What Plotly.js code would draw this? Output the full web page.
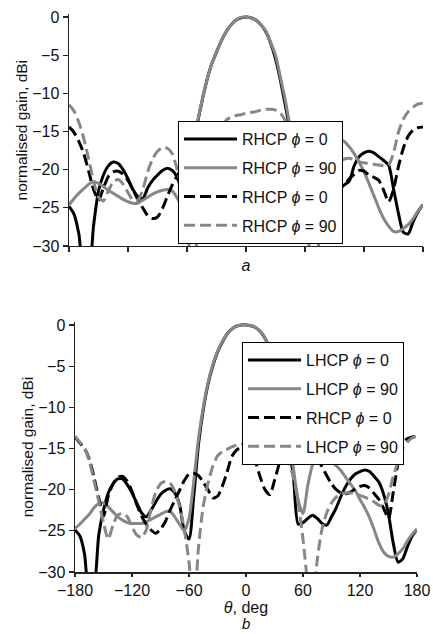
<!DOCTYPE html>
<html>
<head>
<meta charset="utf-8">
<script src="https://cdn.plot.ly/plotly-3.0.1.min.js"></script>
<style>html,body{margin:0;padding:0;background:#fff;}#chart{width:433px;height:634px;}</style>
</head>
<body>
<div id="chart"></div>
<script>
// theta grid, deg (step 5)
const theta = [];
for (let t = -180; t <= 180; t += 5) theta.push(t);

const xTicks = [-180, -120, -60, 0, 60, 120, 180];
const yTicks = [0, -5, -10, -15, -20, -25, -30];

// ---- panel a ----
const aNames = ['RHCP <i>ϕ</i> = 0', 'RHCP <i>ϕ</i> = 90', 'RHCP <i>ϕ</i> = 0', 'RHCP <i>ϕ</i> = 90'];
const aCoPhi0 = [-24.8,-25.8,-28.4,-33,-33,-27.3,-22.8,-20.7,-19.5,-19.0,-19.2,-20.0,-21.2,-22.6,-23.5,-23.8,-22.4,-21.4,-20.7,-20.1,-19.8,-20.1,-21.0,-23.0,-25.5,-20.5,-14.4,-11.2,-8.4,-6.2,-4.6,-3.1,-1.9,-1.0,-0.4,-0.1,0,-0.1,-0.4,-1.0,-1.9,-3.4,-5.5,-8.3,-11.6,-15.0,-18.5,-21.0,-22.5,-22.0,-21.5,-22.0,-23.0,-23.5,-23.0,-22.5,-22.0,-21.5,-19.5,-18.3,-17.8,-17.6,-17.8,-18.3,-18.8,-19.4,-22.5,-25.7,-28.2,-28.4,-26.8,-25.5,-24.6];
const aCoPhi90 = [-24.6,-23.8,-23.1,-22.5,-21.9,-21.6,-21.8,-22.2,-22.7,-23.1,-23.5,-23.9,-24.2,-24.4,-24.4,-24.0,-23.6,-23.2,-22.9,-22.7,-22.6,-22.8,-23.7,-24.8,-25.0,-19.5,-14.2,-11.1,-8.4,-6.2,-4.6,-3.1,-1.9,-1.0,-0.4,-0.05,0,-0.1,-0.4,-1.0,-1.8,-3.3,-5.0,-7.9,-10.9,-14.5,-17.5,-19.0,-19.5,-18.5,-17.5,-16.5,-16.0,-15.8,-15.8,-16.0,-16.3,-17.0,-17.9,-19.0,-20.3,-21.8,-23.4,-25.0,-26.4,-27.4,-28.1,-28.1,-27.7,-27.2,-26.4,-25.4,-24.6];
const aXPhi0 = [-14.4,-15.1,-16.3,-17.9,-20.2,-22.6,-24.0,-22.4,-20.9,-20.3,-20.2,-20.6,-21.4,-22.6,-23.9,-25.0,-26.0,-26.4,-26.2,-25.1,-23.5,-22.0,-20.8,-19.8,-19.2,-19.3,-20.0,-21.0,-22.0,-21.0,-19.0,-17.5,-16.5,-16.0,-15.8,-15.8,-16.0,-16.8,-18.0,-19.5,-20.5,-20.8,-19.5,-17.5,-16.5,-16.0,-16.3,-17.0,-18.0,-19.2,-20.3,-21.2,-21.7,-22.0,-22.2,-22.3,-22.0,-21.2,-20.6,-20.1,-20.2,-20.7,-21.0,-21.4,-22.7,-24.2,-22.6,-19.6,-17.2,-15.6,-14.8,-14.5,-14.4];
const aXPhi90 = [-11.5,-12.3,-13.8,-15.9,-18.6,-21.5,-23.6,-24.1,-22.8,-21.6,-21.3,-21.9,-23.0,-24.0,-24.0,-22.6,-20.3,-18.6,-17.6,-17.1,-17.2,-17.9,-20.0,-22.8,-26.5,-35,-29.5,-24.0,-20.5,-18.0,-16.3,-14.8,-13.5,-13.1,-12.9,-12.8,-12.6,-12.5,-12.4,-12.2,-12.1,-12.1,-12.2,-12.6,-13.6,-15.5,-18.0,-21.5,-25.5,-31,-35,-28,-24.0,-21.5,-20.0,-19.0,-18.6,-18.5,-18.7,-19.0,-19.1,-19.2,-19.3,-19.4,-19.5,-19.4,-17.8,-15.1,-13.4,-12.4,-11.8,-11.4,-11.3];

// ---- panel b ----
const bNames = ['LHCP <i>ϕ</i> = 0', 'LHCP <i>ϕ</i> = 90', 'RHCP <i>ϕ</i> = 0', 'LHCP <i>ϕ</i> = 90'];
const bCoPhi0 = [-24.9,-25.6,-27.8,-33,-32,-25.5,-22.5,-20.4,-19.3,-18.7,-18.7,-19.4,-20.4,-21.6,-22.8,-23.3,-22.5,-21.5,-20.6,-20.1,-19.9,-20.4,-21.8,-25.0,-26.0,-20.8,-14.5,-10.3,-7.2,-5.0,-3.3,-2.1,-1.1,-0.5,-0.15,0,0,-0.1,-0.3,-0.8,-1.6,-2.8,-4.5,-7.0,-10.5,-14.5,-18.5,-24.2,-24.0,-23.5,-23.1,-23.5,-24.1,-24.3,-23.3,-22.2,-20.8,-19.6,-18.7,-18.1,-17.8,-17.6,-17.8,-18.4,-19.1,-20.6,-23.0,-26.5,-28.8,-28.4,-26.9,-25.6,-24.8];
const bCoPhi90 = [-24.7,-24.2,-23.6,-23.0,-22.2,-21.7,-21.6,-22.1,-22.7,-23.3,-23.7,-24.0,-24.1,-24.1,-24.1,-23.9,-23.6,-23.3,-23.0,-22.7,-22.6,-23.3,-24.2,-25.0,-23.5,-19.0,-13.8,-10.0,-7.0,-4.8,-3.2,-2.0,-1.1,-0.5,-0.15,0,0,-0.1,-0.3,-0.8,-1.6,-2.8,-4.3,-6.6,-9.6,-13.5,-17.5,-21.3,-22.9,-19.5,-17.0,-16.0,-15.7,-16.1,-16.6,-17.1,-17.7,-18.5,-19.3,-20.1,-21.2,-22.2,-23.4,-24.9,-26.5,-27.6,-28.1,-28.2,-27.8,-27.2,-26.2,-25.4,-24.8];
const bXPhi0 = [-13.6,-14.3,-15.0,-16.3,-18.5,-21.0,-23.2,-20.8,-19.3,-18.5,-18.4,-19.0,-20.2,-21.8,-23.2,-24.2,-24.9,-25.3,-24.8,-23.9,-22.5,-21.3,-20.1,-18.9,-18.1,-18.0,-18.3,-19.1,-20.0,-21.0,-20.8,-19.6,-17.9,-16.0,-15.2,-14.8,-14.7,-15.0,-16.6,-18.5,-20.0,-20.6,-18.9,-16.8,-14.6,-13.5,-13.2,-13.3,-13.8,-14.6,-15.4,-16.3,-17.2,-18.3,-19.3,-20.0,-20.4,-20.5,-20.3,-19.9,-19.6,-19.5,-19.8,-20.5,-21.2,-22.3,-23.5,-20.3,-16.8,-14.3,-13.8,-13.6,-13.5];
const bXPhi90 = [-13.5,-14.2,-15.0,-16.5,-18.9,-21.4,-24.0,-26.0,-24.3,-23.1,-22.9,-23.3,-24.5,-25.5,-25.8,-24.9,-22.4,-20.3,-19.3,-19.0,-19.2,-20.2,-22.0,-24.8,-28.8,-35,-27.0,-22.0,-19.2,-17.2,-15.9,-15.4,-15.1,-14.8,-14.6,-14.5,-14.3,-14.2,-14.1,-14.1,-14.3,-14.6,-15.0,-15.5,-15.8,-16.8,-18.5,-21.6,-26.0,-31.5,-35,-28.5,-24.8,-22.8,-21.6,-20.9,-20.5,-20.4,-20.4,-20.5,-20.7,-20.9,-21.2,-21.5,-21.9,-21.9,-20.6,-18.4,-16.6,-15.0,-14.2,-13.7,-13.5];

const BLACK = '#000000', GREY = '#878787';
const styles = [
  {color: BLACK, dash: 'solid'},
  {color: GREY, dash: 'solid'},
  {color: BLACK, dash: '11px,5px'},
  {color: GREY, dash: '11px,5px'}
];

function mk(y, name, st, xa, ya, leg, grp) {
  return {
    x: theta, y: y, name: name, type: 'scatter', mode: 'lines',
    xaxis: xa, yaxis: ya, legend: leg, legendgroup: grp,
    line: {color: st.color, dash: st.dash, width: 3, shape: 'spline', smoothing: 0.7}
  };
}

const aSeries = [aCoPhi0, aCoPhi90, aXPhi0, aXPhi90];
const bSeries = [bCoPhi0, bCoPhi90, bXPhi0, bXPhi90];
const traces = [];
aSeries.forEach((s, i) => traces.push(mk(s, aNames[i], styles[i], 'x', 'y', 'legend', 'a' + i)));
bSeries.forEach((s, i) => traces.push(mk(s, bNames[i], styles[i], 'x2', 'y2', 'legend2', 'b' + i)));

const FONT = 'Liberation Sans, Arial, sans-serif';
const axBase = {
  showgrid: false, zeroline: false, showline: true, linecolor: '#222', linewidth: 1.5,
  ticks: 'outside', ticklen: 5, tickwidth: 1.2, tickcolor: '#222',
  tickfont: {family: FONT, size: 16, color: '#111'}
};

const legBase = {
  xanchor: 'left', yanchor: 'top',
  bgcolor: '#fff', bordercolor: '#000', borderwidth: 1,
  font: {family: FONT, size: 16, color: '#111'},
  tracegroupgap: 5, itemwidth: 53, traceorder: 'grouped'
};

const layout = {
  width: 433, height: 634,
  margin: {l: 0, r: 0, t: 0, b: 0},
  paper_bgcolor: '#fff', plot_bgcolor: '#fff',
  font: {family: FONT, size: 16, color: '#111'},
  showlegend: true,
  xaxis: Object.assign({}, axBase, {
    domain: [69/433, 423/433], anchor: 'y', range: [-180, 180],
    tickmode: 'array', tickvals: xTicks, showticklabels: false,
    title: {text: '<i>a</i>', font: {family: FONT, size: 16}, standoff: 8}
  }),
  yaxis: Object.assign({}, axBase, {
    domain: [0.61199, 0.9774], anchor: 'x', range: [-30, 0.35],
    tickmode: 'array', tickvals: yTicks,
    title: {text: 'normalised gain, dBi', font: {family: FONT, size: 15.5}, standoff: 0}
  }),
  xaxis2: Object.assign({}, axBase, {
    domain: [75/433, 417/433], anchor: 'y2', range: [-180, 180],
    tickmode: 'array', tickvals: xTicks, ticklen: 3,
    title: {text: '<i>θ</i>, deg', font: {family: FONT, size: 16}, standoff: 4}
  }),
  yaxis2: Object.assign({}, axBase, {
    domain: [0.09779, 0.49196], anchor: 'x2', range: [-30, 0.35],
    tickmode: 'array', tickvals: yTicks,
    title: {text: 'normalised gain, dBi', font: {family: FONT, size: 15.5}, standoff: 0}
  }),
  legend: Object.assign({}, legBase, {x: 178/433, y: 1 - 121/634}),
  legend2: Object.assign({}, legBase, {x: 242/433, y: 1 - 342/634}),
  annotations: [
    {text: '<i>b</i>', xref: 'paper', yref: 'paper', x: 246/433, y: 0,
     xanchor: 'center', yanchor: 'bottom', showarrow: false,
     font: {family: FONT, size: 15, color: '#111'}}
  ]
};

Plotly.newPlot('chart', traces, layout, {displayModeBar: false, staticPlot: true});
</script>
</body>
</html>
